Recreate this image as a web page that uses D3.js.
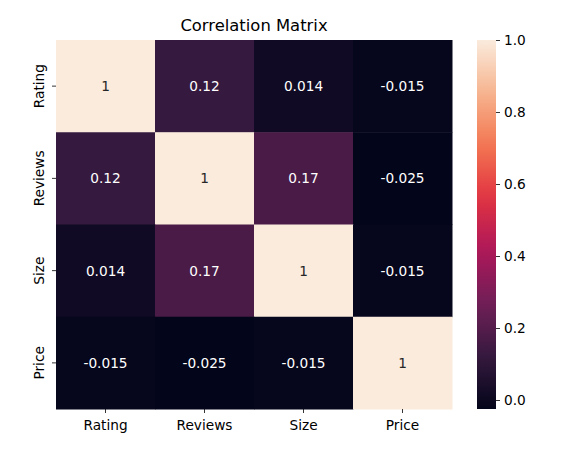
<!DOCTYPE html>
<html>
<head>
<meta charset="utf-8">
<script src="https://cdn.jsdelivr.net/npm/d3@7"></script>
<style>
  body { margin: 0; background: #fff; }
  svg { font-family: "DejaVu Sans", sans-serif; }
</style>
</head>
<body>
<svg id="chart" width="567" height="449"></svg>
<script>
var labels = ["Rating", "Reviews", "Size", "Price"];
var matrix = [
  [1, 0.12, 0.014, -0.015],
  [0.12, 1, 0.17, -0.025],
  [0.014, 0.17, 1, -0.015],
  [-0.015, -0.025, -0.015, 1]
];
var cbTicks = [0.0, 0.2, 0.4, 0.6, 0.8, 1.0];

var mLeft = 56, mTop = 40, mRight = 452, mBottom = 409;
var cbLeft = 477, cbWidth = 19;
var fs = 13.7;

var svg = d3.select("#chart");

var vmin = d3.min(matrix, function (r) { return d3.min(r); });
var vmax = d3.max(matrix, function (r) { return d3.max(r); });

// rocket colormap, approximated (palette samples sit at k/7)
var rocket = d3.scaleLinear()
  .domain([0, 1 / 7, 2 / 7, 3 / 7, 4 / 7, 5 / 7, 6 / 7, 1])
  .range(["#03051a", "#35193e", "#701f57", "#ad1759", "#e13342", "#f37651", "#f6b48f", "#faebdd"])
  .interpolate(d3.interpolateRgb);
var color = function (v) { return rocket((v - vmin) / (vmax - vmin)); };

var x = d3.scaleBand().domain(labels).range([mLeft, mRight]);
var y = d3.scaleBand().domain(labels).range([mTop, mBottom]);

var cells = [];
matrix.forEach(function (row, i) {
  row.forEach(function (v, j) { cells.push({ r: labels[i], c: labels[j], v: v }); });
});

svg.selectAll("rect.cell")
  .data(cells)
  .enter().append("rect")
  .attr("class", "cell")
  .attr("x", function (d) { return x(d.c); })
  .attr("y", function (d) { return y(d.r); })
  .attr("width", x.bandwidth() + 0.5)
  .attr("height", y.bandwidth() + 0.5)
  .attr("fill", function (d) { return color(d.v); });

svg.selectAll("text.annot")
  .data(cells)
  .enter().append("text")
  .attr("class", "annot")
  .attr("x", function (d) { return x(d.c) + x.bandwidth() / 2; })
  .attr("y", function (d) { return y(d.r) + y.bandwidth() / 2; })
  .attr("dy", "0.36em")
  .attr("text-anchor", "middle")
  .attr("font-size", fs)
  .attr("fill", function (d) { return d.v > 0.5 ? "#262626" : "#ffffff"; })
  .text(function (d) { return String(d.v); });

// axes
var xAxis = svg.append("g")
  .attr("transform", "translate(0," + mBottom + ")")
  .call(d3.axisBottom(x).tickSize(4).tickPadding(4));
var yAxis = svg.append("g")
  .attr("transform", "translate(" + mLeft + ",0)")
  .call(d3.axisLeft(y).tickSize(4).tickPadding(4));
[xAxis, yAxis].forEach(function (a) {
  a.select(".domain").remove();
  a.selectAll("text").attr("font-size", fs).attr("fill", "#000").attr("font-family", "DejaVu Sans");
  a.selectAll("line").attr("stroke", "#000").attr("stroke-width", 0.8);
});
xAxis.selectAll("text").attr("dy", "0.95em");
yAxis.selectAll("text")
  .attr("text-anchor", "middle")
  .attr("transform", "translate(-12,0) rotate(-90)")
  .attr("x", 0)
  .attr("dy", "0");

// title
svg.append("text")
  .attr("x", (mLeft + mRight) / 2)
  .attr("y", 31)
  .attr("text-anchor", "middle")
  .attr("font-size", 16.4)
  .attr("fill", "#000")
  .text("Correlation Matrix");

// colorbar
var cy = d3.scaleLinear().domain([vmin, vmax]).range([mBottom, mTop]);
var defs = svg.append("defs");
var grad = defs.append("linearGradient").attr("id", "cbgrad")
  .attr("x1", 0).attr("y1", 1).attr("x2", 0).attr("y2", 0);
d3.range(0, 1.0001, 0.05).forEach(function (t) {
  grad.append("stop").attr("offset", t).attr("stop-color", rocket(t));
});
svg.append("rect")
  .attr("x", cbLeft).attr("y", mTop)
  .attr("width", cbWidth).attr("height", mBottom - mTop)
  .attr("fill", "url(#cbgrad)");
var cbAxis = svg.append("g")
  .attr("transform", "translate(" + (cbLeft + cbWidth) + ",0)")
  .call(d3.axisRight(cy).tickValues(cbTicks).tickFormat(d3.format(".1f")).tickSize(4).tickPadding(4));
cbAxis.select(".domain").remove();
cbAxis.selectAll("text").attr("font-size", fs).attr("fill", "#000").attr("font-family", "DejaVu Sans");
cbAxis.selectAll("line").attr("stroke", "#000").attr("stroke-width", 0.8);
</script>
</body>
</html>
